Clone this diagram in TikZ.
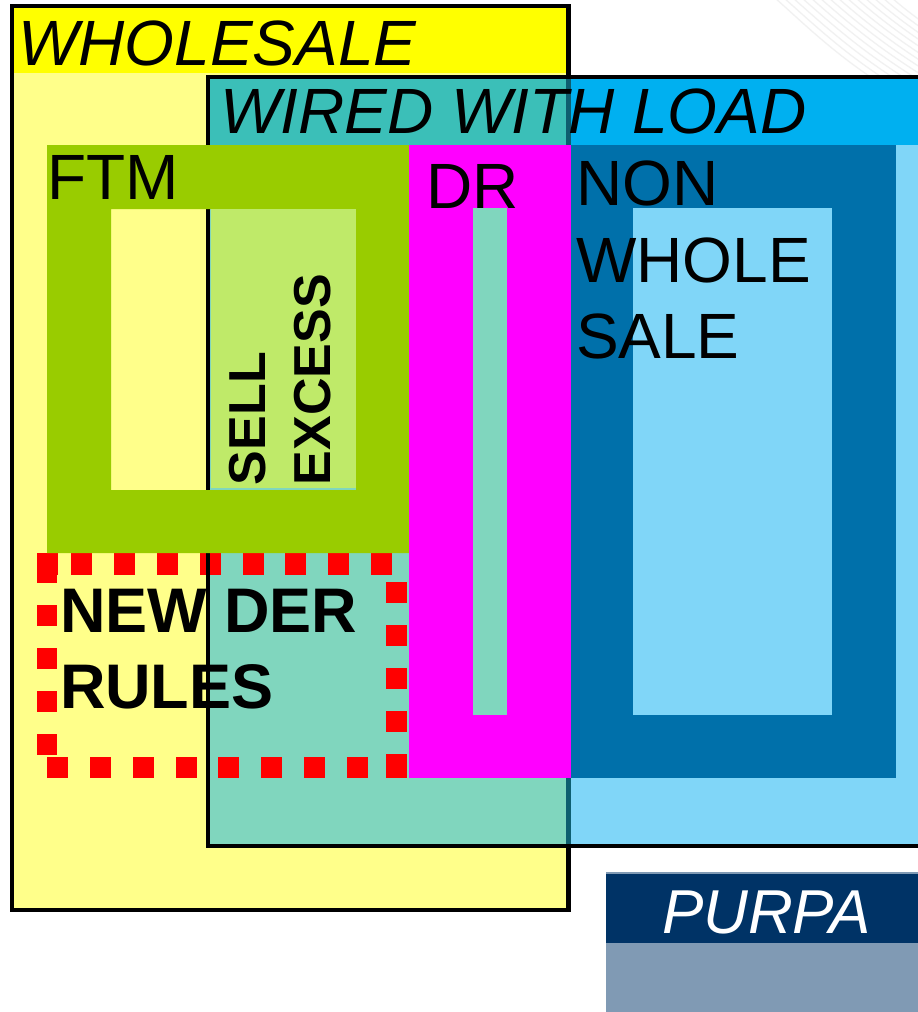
\documentclass[tikz,border=0pt]{standalone}
\usepackage{fontspec}
\setmainfont{Liberation Sans}
\definecolor{wsbody}{HTML}{FFFF8A}
\definecolor{wshead}{HTML}{FFFF00}
\definecolor{wlbody}{HTML}{80D6F8}
\definecolor{wlhead}{HTML}{00B0F0}
\definecolor{mint}{HTML}{80D6BE}
\definecolor{teal}{HTML}{3BBFB8}
\definecolor{ftmgreen}{HTML}{99CC00}
\definecolor{sellgreen}{HTML}{BFEA69}
\definecolor{drmag}{HTML}{FF00FF}
\definecolor{nwblue}{HTML}{0070AA}
\definecolor{seenline}{HTML}{0E5E70}
\definecolor{purpanavy}{HTML}{003366}
\definecolor{purpagray}{HTML}{809AB4}
\definecolor{stripe}{HTML}{F1F1F1}
\tikzset{
  lbl/.style={inner sep=0pt, outer sep=0pt, anchor=base west, font=\fontsize{64}{64}\selectfont},
  lblit/.style={lbl, font=\fontsize{64}{64}\selectfont\itshape},
  lblbf/.style={lbl, font=\fontsize{63}{63}\selectfont\bfseries},
  lblrot/.style={lbl, rotate=90, font=\fontsize{52}{52}\selectfont\bfseries},
  border/.style={draw=black, line width=4.5pt},
  dashsq/.style={fill=red},
}
\begin{document}
\begin{tikzpicture}[x=1pt,y=-1pt]
  \path[use as bounding box, fill=white] (0,0) rectangle (918,1012);
  % faint stripes top right
  \foreach \i in {0,...,13} {
    \draw[stripe, line width=1.3pt] (775+\i*9,-2) .. controls (800+\i*9,20) and (830+\i*10,50) .. (875+\i*11,80);
  }
  % WHOLESALE fills
  \fill[wsbody] (12,6) rectangle (568,910);
  \fill[wshead] (12,6) rectangle (568,73);
  % WIRED WITH LOAD fills
  \fill[wlbody] (208,145) rectangle (918,846);
  \fill[mint] (208,145) rectangle (568,846);
  \fill[wlhead] (208,77) rectangle (918,145);
  \fill[teal] (208,77) rectangle (568,145);
  % wholesale border seen through wired box
  \draw[seenline, line width=4.5pt] (568.5,77) -- (568.5,846);
  % wholesale visible border
  \draw[border, line join=miter] (568.5,77) -- (568.5,6) -- (12,6) -- (12,910) -- (568.5,910) -- (568.5,846);
  % NEW DER RULES dotted frame (square dashes)
  \fill[dashsq] (37,553) rectangle (57,583);
  \fill[dashsq] (37,553) rectangle (58,575);
  \foreach \x in {71,114,157,200,243,285,328,371} { \fill[dashsq] (\x,553) rectangle (\x+21,575); }
  \foreach \y in {582,625,668,711} { \fill[dashsq] (386,\y) rectangle (407,\y+21); }
  \fill[dashsq] (386,754) rectangle (407,778);
  \foreach \x in {47,90,133,176,218,261,304,347} { \fill[dashsq] (\x,757) rectangle (\x+21,778); }
  \fill[dashsq] (389,757) rectangle (407,778);
  \foreach \y in {605,648,691,734} { \fill[dashsq] (37,\y) rectangle (57,\y+21); }
  % WIRED border
  \draw[border, line join=miter] (918,77) -- (208,77) -- (208,846) -- (918,846);
  % FTM frame
  \fill[ftmgreen, even odd rule] (47,145) rectangle (409,553) (111,209) rectangle (356,490);
  \fill[sellgreen] (211,209) rectangle (356,488);
  % DR
  \fill[drmag] (409,145) rectangle (571,778);
  \fill[mint] (473,208) rectangle (507,715);
  % NON WHOLESALE
  \fill[nwblue] (571,145) rectangle (896,778);
  \fill[wlbody] (633,208) rectangle (832,715);
  % PURPA
  \fill[purpagray] (606,872) rectangle (918,1012);
  \fill[purpanavy] (606,874) rectangle (918,943);
  % Labels
  \node[lblit] (wholesale) at (18,65) {WHOLESALE};
  \node[lblit] (wired) at (220,133) {WIRED WITH LOAD};
  \node[lbl] (ftm) at (47,199) {FTM};
  \node[lbl] (dr) at (426,208) {DR};
  \node[lbl] (non) at (576,205) {NON};
  \node[lbl] (whole) at (576,282) {WHOLE};
  \node[lbl] (sale) at (576,358) {SALE};
  \node[lblrot] (sell) at (265,485) {SELL};
  \node[lblrot] (excess) at (330,485) {EXCESS};
  \node[lblbf] (newder) at (60,632) {NEW DER};
  \node[lblbf] (rules) at (60,708) {RULES};
  \node[lblit, text=white, font=\fontsize{62}{62}\selectfont\itshape] (purpa) at (662,933) {PURPA};
\end{tikzpicture}
\end{document}
